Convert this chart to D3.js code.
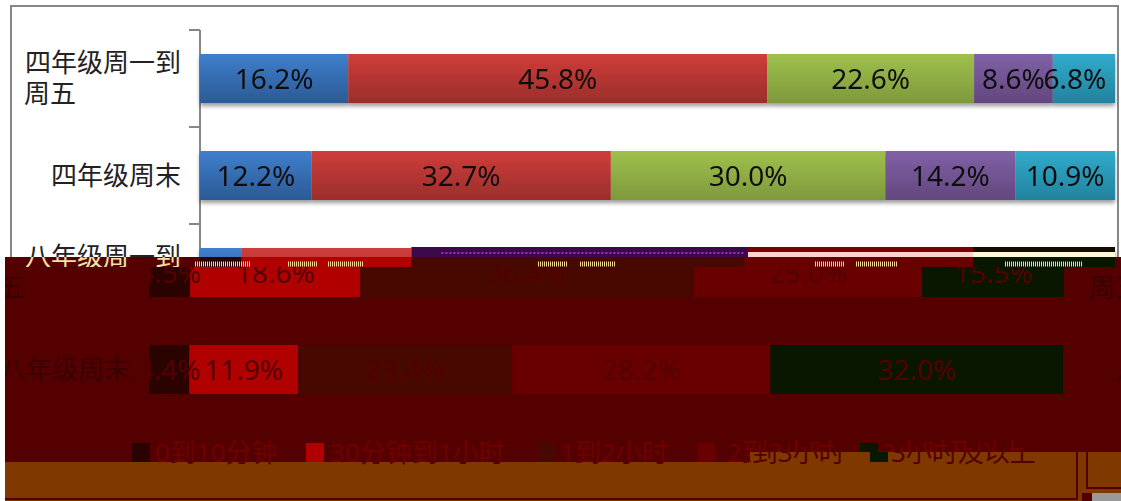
<!DOCTYPE html>
<html>
<head>
<meta charset="utf-8">
<script src="https://cdn.jsdelivr.net/npm/d3@7"></script>
<style>
  html, body { margin: 0; padding: 0; background: #fff; }
  svg { display: block; }
  text { font-family: "Noto Sans", "Noto Sans CJK SC", sans-serif; }
</style>
</head>
<body>
<div id="chart"></div>
<script>
var categories = ["四年级周一到周五", "四年级周末", "八年级周一到周五", "八年级周末"];
var catLines = [["四年级周一到", "周五"], ["四年级周末"], ["八年级周一到", "周五"], ["八年级周末"]];
var seriesNames = ["0到10分钟", "30分钟到1小时", "1到2小时", "2到3小时", "3小时及以上"];
var s1 = [16.2, 12.2, 4.5, 4.4];
var s2 = [45.8, 32.7, 18.6, 11.9];
var s3 = [22.6, 30.0, 36.4, 23.4];
var s4 = [8.6, 14.2, 25.0, 28.2];
var s5 = [6.8, 10.9, 15.5, 32.0];
var allSeries = [s1, s2, s3, s4, s5];

// normal colours, and the tinted ones the damaged lower part of the picture has
var topColors = [["#3f7fcd", "#2b5a94"], ["#cf3d3a", "#9b2e2b"], ["#9fc04c", "#7e993c"], ["#8061a6", "#63477e"], ["#31abcb", "#22829e"]];
var lowColors = ["#2a0300", "#b00000", "#470800", "#680000", "#0a1700"];
var lowBg = "#550000", bandBg = "#7f3800";

var width = 1121, height = 501;
var svg = d3.select("#chart").append("svg").attr("width", width).attr("height", height);
var defs = svg.append("defs");

topColors.forEach(function(c, i) {
  var g = defs.append("linearGradient").attr("id", "grad" + i).attr("x1", 0).attr("y1", 0).attr("x2", 0).attr("y2", 1);
  g.append("stop").attr("offset", "0%").attr("stop-color", c[0]);
  g.append("stop").attr("offset", "100%").attr("stop-color", c[1]);
});
var shadow = defs.append("filter").attr("id", "shadow").attr("x", "-5%").attr("y", "-10%").attr("width", "110%").attr("height", "130%");
shadow.append("feDropShadow").attr("dx", 0).attr("dy", 3).attr("stdDeviation", 2).attr("flood-color", "#000").attr("flood-opacity", 0.4);

function addClip(id, x, y, w, h) {
  defs.append("clipPath").attr("id", id).append("rect").attr("x", x).attr("y", y).attr("width", w).attr("height", h);
}
addClip("clipTop", 0, 0, width, 257);
addClip("clipStrip", 5, 257, width - 5, 10);
addClip("clipLow", 5, 267, width - 5, 185);
addClip("clipLegendA", 5, 430, 745, 32);
addClip("clipLegendB", 750, 430, 371, 22);
addClip("clipLegendC", 5, 462, 745, 36);
addClip("clipLegendD", 750, 452, 327, 46);

var x = d3.scaleLinear().domain([0, 100]).range([200, 1115]);
var y = d3.scaleBand().domain(categories).range([30, 418]).paddingInner(0.495).paddingOuter(0.2475);
var stackRows = categories.map(function(c, r) {
  var sum = 0;
  return allSeries.map(function(s, i) {
    var d = { cat: c, row: r, i: i, v: s[r], x0: sum, x1: sum + s[r] };
    sum += s[r];
    return d;
  });
});

function drawBars(g, rows, fill, textColor) {
  var row = g.selectAll("g.row").data(rows).enter().append("g").attr("class", "row");
  row.selectAll("rect").data(function(d) { return d; }).enter().append("rect")
    .attr("x", function(d) { return x(d.x0); })
    .attr("y", function(d) { return y(d.cat); })
    .attr("width", function(d) { return x(d.x1) - x(d.x0); })
    .attr("height", y.bandwidth())
    .attr("fill", fill);
  row.selectAll("text").data(function(d) { return d; }).enter().append("text")
    // the 6.8% label sits a bit left of its segment in the original
    .attr("x", function(d) { return (x(d.x0) + x(d.x1)) / 2 - (d.row == 0 && d.i == 4 ? 9 : 0); })
    .attr("y", function(d) { return y(d.cat) + y.bandwidth() / 2 + 10; })
    .attr("text-anchor", "middle")
    .attr("font-size", 28)
    .attr("fill", textColor)
    .text(function(d) { return d.v.toFixed(1) + "%"; });
}

function drawCatLabels(g, rows, color, dx) {
  rows.forEach(function(r) {
    var lines = catLines[r];
    var mid = y(categories[r]) + y.bandwidth() / 2;
    lines.forEach(function(t, j) {
      g.append("text")
        .attr("x", (lines.length > 1 && j == 1 ? 24 : 181) + dx)
        .attr("y", mid + 9 + (j - (lines.length - 1) / 2) * 31)
        .attr("text-anchor", lines.length > 1 && j == 1 ? "start" : "end")
        .attr("font-family", "Noto Sans CJK SC")
        .attr("font-size", 26)
        .attr("fill", color)
        .text(t);
    });
  });
}

// clean upper part: frame, axis, first rows
var upper = svg.append("g").attr("clip-path", "url(#clipTop)");
upper.append("rect").attr("x", 11).attr("y", 6).attr("width", 1107).attr("height", 300).attr("fill", "#fff").attr("stroke", "#868686").attr("stroke-width", 2);
upper.append("line").attr("x1", x(0)).attr("x2", x(0)).attr("y1", y.range()[0]).attr("y2", y.range()[1]).attr("stroke", "#868686").attr("stroke-width", 2);
upper.selectAll("line.tick").data(d3.range(categories.length + 1)).enter().append("line").attr("class", "tick")
  .attr("x1", x(0) - 11).attr("x2", x(0))
  .attr("y1", function(i) { return y.range()[0] + i * y.step(); })
  .attr("y2", function(i) { return y.range()[0] + i * y.step(); })
  .attr("stroke", "#868686").attr("stroke-width", 2);
var topBars = upper.append("g").attr("filter", "url(#shadow)");
drawBars(topBars, stackRows.slice(0, 3), function(d) { return "url(#grad" + d.i + ")"; }, "#111");
drawCatLabels(upper, [0, 1, 2], "#222", 0);

// broken slice of the third row just above the damaged area
var y3 = y(categories[2]);
var noise = upper.append("g");
noise.append("rect").attr("x", x(s1[2] + s2[2])).attr("y", y3 - 1).attr("width", x(s1[2] + s2[2] + s3[2]) - x(s1[2] + s2[2]) + 25).attr("height", 11).attr("fill", "#3c0a4a");
noise.append("line").attr("x1", x(s1[2] + s2[2]) + 30).attr("x2", 745).attr("y1", y3 + 5).attr("y2", y3 + 5).attr("stroke", "#9a30c8").attr("stroke-width", 2).attr("stroke-dasharray", "2 2");
noise.append("rect").attr("x", 748).attr("y", y3 - 1).attr("width", 225).attr("height", 5).attr("fill", "#7a0000");
noise.append("rect").attr("x", 748).attr("y", y3 + 4).attr("width", 225).attr("height", 5).attr("fill", "#ffd2d2");
noise.append("rect").attr("x", 973).attr("y", y3 - 1).attr("width", 142).attr("height", 5).attr("fill", "#140a00");
noise.append("rect").attr("x", 973).attr("y", y3 + 4).attr("width", 142).attr("height", 5).attr("fill", "#fff8d8");

// damaged lower part
svg.append("rect").attr("x", 5).attr("y", 257).attr("width", width - 5).attr("height", 205).attr("fill", lowBg);

var strip = svg.append("g").attr("clip-path", "url(#clipStrip)");
drawBars(strip, stackRows.slice(2, 3), function(d) { return lowColors[d.i]; }, "none");
drawCatLabels(strip, [2], "#f2e2a4", 0);
strip.selectAll("line.frag").data([[195, 250], [288, 318], [328, 363], [538, 568], [580, 615], [815, 845], [856, 897], [1005, 1082]])
  .enter().append("line").attr("class", "frag")
  .attr("x1", function(d) { return d[0]; }).attr("x2", function(d) { return d[1]; })
  .attr("y1", 264).attr("y2", 264)
  .attr("stroke", "#f2d890").attr("stroke-width", 5).attr("stroke-dasharray", "1 1");

var low = svg.append("g").attr("clip-path", "url(#clipLow)");
var lowBars = low.append("g").attr("transform", "translate(-51,0)");
drawBars(lowBars, stackRows.slice(2), function(d) { return lowColors[d.i]; }, "#550000");
drawCatLabels(lowBars, [2, 3], "#3a0000", 0);
drawCatLabels(low.append("g").attr("transform", "translate(1065,0)"), [2, 3], "#3a0000", 0);

// orange band, its right part starts higher
svg.append("rect").attr("x", 5).attr("y", 462).attr("width", width - 5).attr("height", 39).attr("fill", bandBg);
svg.append("rect").attr("x", 750).attr("y", 452).attr("width", width - 750).attr("height", 49).attr("fill", bandBg);
svg.append("path").attr("d", "M5,499H1077V452").attr("fill", "none").attr("stroke", lowBg).attr("stroke-width", 2);
svg.append("path").attr("d", "M1087,452V488H1121").attr("fill", "none").attr("stroke", lowBg).attr("stroke-width", 2);
svg.append("rect").attr("x", 1082).attr("y", 493).attr("width", 10).attr("height", 8).attr("fill", lowBg);
svg.append("rect").attr("x", 1092).attr("y", 493).attr("width", 29).attr("height", 8).attr("fill", "#999");

// legend
var legendX = d3.scalePoint().domain(seriesNames).range([0, 4]);
var swatchX = [132, 306, 537, 697, 860];
var textX = [155, 330, 560, 727, 881];

function drawLegend(clip, dx, color) {
  var g = svg.append("g").attr("clip-path", "url(#" + clip + ")");
  var inner = g.append("g").attr("transform", "translate(" + dx + ",0)");
  var item = inner.selectAll("g").data(seriesNames).enter().append("g");
  item.append("rect")
    .attr("x", function(d) { return swatchX[legendX(d)]; })
    .attr("y", 443).attr("width", 18).attr("height", 19)
    .attr("fill", function(d) { return lowColors[legendX(d)]; });
  item.append("text")
    .attr("x", function(d) { return textX[legendX(d)]; })
    .attr("y", 462)
    .attr("font-family", "Noto Sans CJK SC")
    .attr("font-size", 26)
    .attr("fill", color)
    .text(function(d) { return d; });
}
drawLegend("clipLegendA", 0, "#6e0000");
drawLegend("clipLegendB", 0, "#6e0000");
drawLegend("clipLegendC", 0, lowBg);
drawLegend("clipLegendD", 10, lowBg);
</script>
</body>
</html>
